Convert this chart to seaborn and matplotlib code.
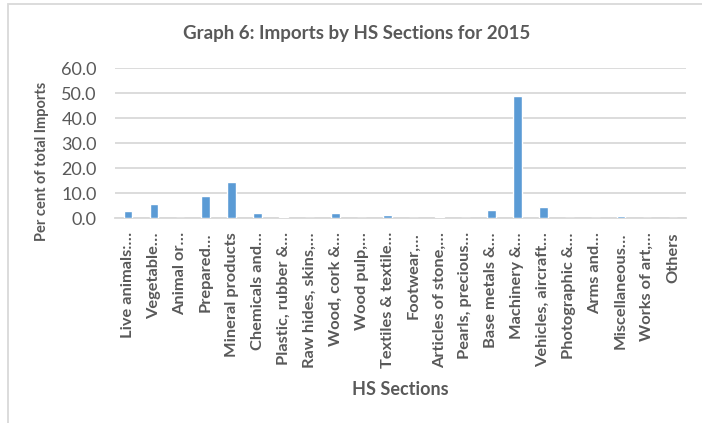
import matplotlib
matplotlib.use("Agg")
import matplotlib.pyplot as plt
import seaborn as sns
import pandas as pd
from matplotlib.patches import Rectangle
from matplotlib.ticker import FormatStrFormatter

categories = [
    "Live animals:\u2026", "Vegetable\u2026", "Animal or\u2026", "Prepared\u2026",
    "Mineral products", "Chemicals and\u2026", "Plastic, rubber &\u2026",
    "Raw hides, skins,\u2026", "Wood, cork &\u2026", "Wood pulp,\u2026",
    "Textiles & textile\u2026", "Footwear,\u2026", "Articles of stone,\u2026",
    "Pearls, precious\u2026", "Base metals &\u2026", "Machinery &\u2026",
    "Vehicles, aircraft\u2026", "Photographic &\u2026", "Arms and\u2026",
    "Miscellaneous\u2026", "Works of art,\u2026", "Others",
]
values = [2.9, 5.8, 0.3, 8.9, 14.4, 2.1, 0.6, 0.2, 2.1, 0.2, 1.5,
          0.2, 0.5, 0.2, 3.3, 49.1, 4.6, 0.2, 0.2, 1.1, 0.2, 0.3]
yticks = [0, 10, 20, 30, 40, 50, 60]

title = "Graph 6: Imports by HS Sections for 2015"
ylabel = "Per cent of total Imports"
xlabel = "HS Sections"

sns.set_theme(style="white")
plt.rcParams['font.family'] = ['Lato', 'DejaVu Sans']

TXT = "#595959"
GRID = "#D9D9D9"
BAR = "#5B9BD5"

W, H = 702, 423
fig = plt.figure(figsize=(W / 100, H / 100), dpi=100)
fig.patch.set_facecolor("white")

left, right = 115 / W, 686 / W
bottom, top = (H - 218.3) / H, (H - 68.3) / H
ax = fig.add_axes([left, bottom, right - left, top - bottom])

df = pd.DataFrame({"cat": categories, "val": values})
sns.barplot(data=df, x="cat", y="val", color=BAR, saturation=1, width=0.335, ax=ax, zorder=3)

ax.set_ylim(0, 60)
ax.set_xlim(-0.5, len(categories) - 0.5)
ax.set_yticks(yticks)
ax.yaxis.set_major_formatter(FormatStrFormatter("%.1f"))
ax.grid(axis="y", color=GRID, linewidth=1.3, zorder=0)
ax.grid(axis="x", visible=False)
for s in ["top", "right", "left"]:
    ax.spines[s].set_visible(False)
ax.spines["bottom"].set_color(GRID)
ax.spines["bottom"].set_linewidth(1.3)
ax.set_axisbelow(True)

ax.tick_params(axis="y", length=0, pad=13, labelsize=13, labelcolor=TXT)
ax.tick_params(axis="x", length=0, pad=10, labelsize=14, labelcolor=TXT)
ax.set_xticks(range(len(categories)))
ax.set_xticklabels(categories, rotation=90, fontweight="bold")
ax.set_xlabel("")
ax.set_ylabel("")

# fit the rotated category labels to the length seen in the reference
fig.canvas.draw()
renderer = fig.canvas.get_renderer()
longest = max(t.get_window_extent(renderer).height for t in ax.get_xticklabels())
size = 14 * 137 / longest
for t in ax.get_xticklabels():
    t.set_fontsize(size)

fig.text(357 / W, 1 - 33 / H, title, ha="center", va="center",
         fontsize=13.5, fontweight="bold", color=TXT)
fig.text(42 / W, 1 - 161 / H, ylabel, ha="center", va="center", rotation=90,
         fontsize=10.5, fontweight="bold", color=TXT)
fig.text(400 / W, 1 - 389 / H, xlabel, ha="center", va="center",
         fontsize=13, fontweight="bold", color=TXT)

fig.patches.append(Rectangle((8 / W, -0.1), 1.2, 1.1 - 4.5 / H, transform=fig.transFigure,
                             fill=False, edgecolor=GRID, linewidth=1.3, zorder=-1))

fig.savefig("out.png", dpi=100, facecolor="white")
